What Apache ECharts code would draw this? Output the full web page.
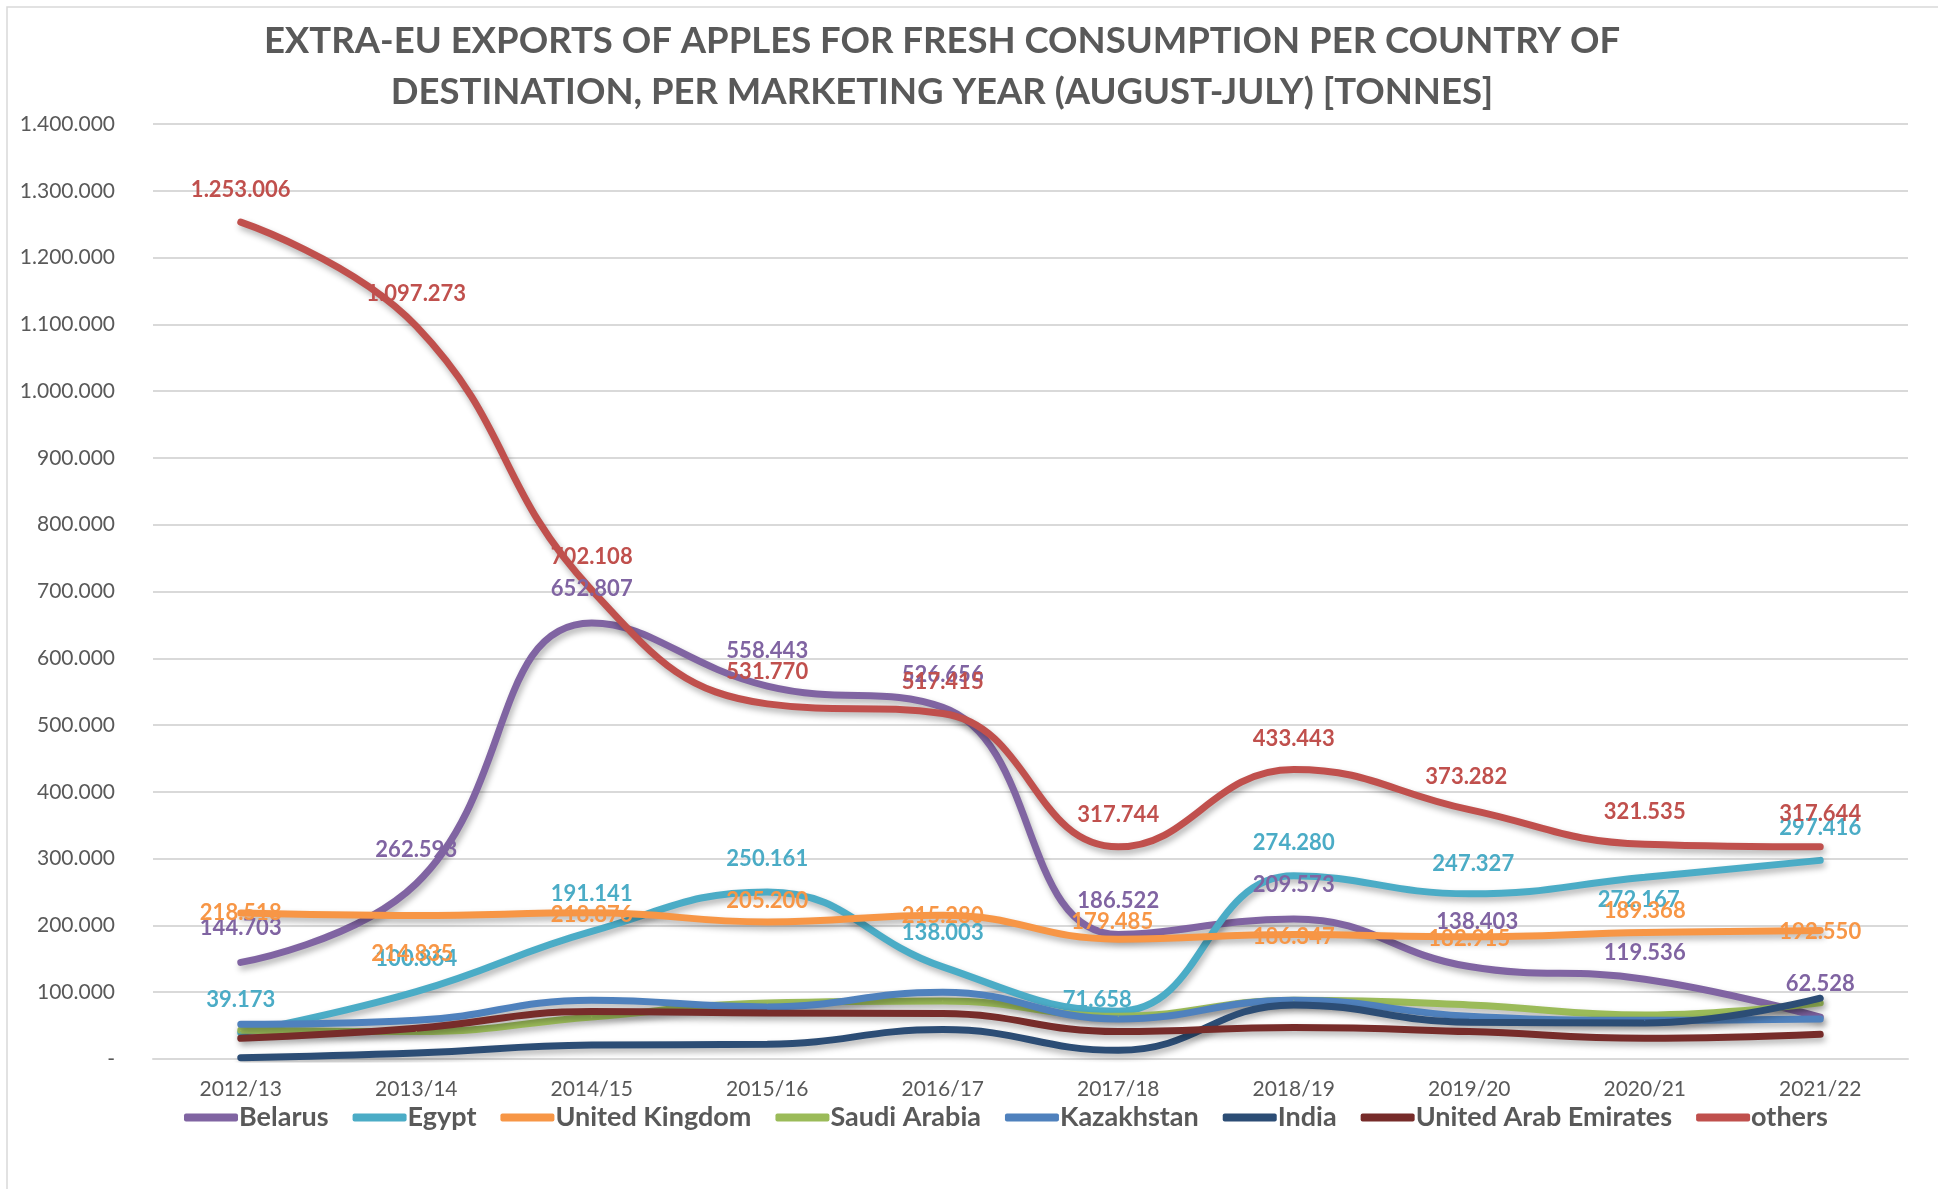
<!DOCTYPE html>
<html>
<head>
<meta charset="utf-8">
<script src="https://cdn.jsdelivr.net/npm/echarts@6/dist/echarts.min.js"></script>
<style>
  html, body { margin: 0; padding: 0; background: #fff; }
  #chart { width: 1938px; height: 1189px; }
</style>
</head>
<body>
<div id="chart"></div>
<script>
// ---------- DATA ----------
var years = ['2012/13', '2013/14', '2014/15', '2015/16', '2016/17', '2017/18', '2018/19', '2019/20', '2020/21', '2021/22'];

var belarus = [144703, 262593, 652807, 558443, 526656, 186522, 209573, 138403, 119536, 62528];
var egypt = [39173, 100864, 191141, 250161, 138003, 71658, 274280, 247327, 272167, 297416];
var unitedKingdom = [218518, 214835, 218876, 205200, 215280, 179485, 186347, 182915, 189368, 192550];
var saudiArabia = [43000, 41000, 63000, 84000, 87000, 64000, 88000, 81000, 66000, 84000];
var kazakhstan = [52000, 58000, 88000, 78000, 100000, 60000, 88000, 64000, 58000, 60000];
var india = [2000, 9000, 21000, 22000, 44000, 13000, 81000, 55000, 54000, 91000];
var uae = [31000, 46000, 71000, 69000, 68000, 41000, 47000, 41000, 31000, 37000];
var others = [1253006, 1097273, 702108, 531770, 517415, 317744, 433443, 373282, 321535, 317644];

// label offsets (centre of label relative to the point), only for labelled series
var belarusLabelPos = [[0, -34], [0, -34], [0, -34], [0, -35], [0, -32], [0, -34], [0, -34], [8, -45], [0, -26], [0, -33]];
var egyptLabelPos = [[0, -33], [0, -33], [0, -37], [0, -33], [0, -34], [-21, -11], [0, -33], [4, -30], [-6, 23], [0, -32]];
var ukLabelPos = [[0, 0], [-4, 38], [0, 2], [0, -21], [0, 1], [-6, -17], [0, 2], [0, 2], [0, -22], [0, 2]];
var othersLabelPos = [[0, -32], [0, -32], [0, -33], [0, -32], [0, -32], [0, -32], [0, -31], [-3, -33], [0, -32], [0, -33]];

// ---------- HELPERS ----------
function fmt(n) {
	if (n === 0) {
		return '-';
	}
	return String(Math.round(n)).replace(/\B(?=(\d{3})+(?!\d))/g, '.');
}

var baseFont = 'Lato, "Liberation Sans", sans-serif';

function makeSeries(name, values, color, labelPos) {
	var s = {
		name: name,
		type: 'line',
		smooth: 0.45,
		symbol: 'circle',
		symbolSize: 1,
		itemStyle: { color: color },
		lineStyle: {
			width: 7,
			color: color,
			cap: 'round',
			shadowColor: 'rgba(0,0,0,0.3)',
			shadowBlur: 6,
			shadowOffsetX: 2,
			shadowOffsetY: 4
		},
		emphasis: { disabled: true },
		data: values.map(function (v, i) {
			var item = { value: v };
			if (labelPos) {
				item.label = { offset: labelPos[i] };
			}
			return item;
		})
	};
	if (labelPos) {
		s.label = {
			show: true,
			position: 'inside',
			color: color,
			fontFamily: baseFont,
			fontWeight: 'bold',
			fontSize: 22,
			formatter: function (p) { return fmt(p.value); }
		};
	} else {
		s.label = { show: false };
	}
	return s;
}

// ---------- CHART ----------
var chart = echarts.init(document.getElementById('chart'));

var options = {
	backgroundColor: '#fff',
	animation: false,
	graphic: [
		{
			type: 'rect',
			shape: { x: 7, y: 7, width: 2100, height: 2100 },
			style: { fill: 'none', stroke: '#d9d9d9', lineWidth: 1.5 },
			silent: true
		}
	],
	title: {
		text: 'EXTRA-EU EXPORTS OF APPLES FOR FRESH CONSUMPTION PER COUNTRY OF\nDESTINATION, PER MARKETING YEAR (AUGUST-JULY) [TONNES]',
		left: 937,
		top: 11,
		textAlign: 'center',
		textStyle: {
			color: '#595959',
			fontFamily: baseFont,
			fontWeight: 'bold',
			fontSize: 36.5,
			lineHeight: 51
		}
	},
	grid: {
		left: 153,
		right: 30,
		top: 124,
		bottom: 130
	},
	legend: {
		left: 179,
		top: 1099,
		itemWidth: 54,
		itemHeight: 8,
		itemGap: 24,
		icon: 'roundRect',
		textStyle: {
			color: '#595959',
			fontFamily: baseFont,
			fontWeight: 'bold',
			fontSize: 27,
			padding: [0, 0, 0, -4]
		},
		data: ['Belarus', 'Egypt', 'United Kingdom', 'Saudi Arabia', 'Kazakhstan', 'India', 'United Arab Emirates', 'others']
	},
	xAxis: {
		type: 'category',
		data: years,
		boundaryGap: true,
		axisLine: { show: true, lineStyle: { color: '#d9d9d9', width: 2 } },
		axisTick: { show: false },
		axisLabel: {
			color: '#595959',
			fontFamily: baseFont,
			fontSize: 21,
			margin: 20
		}
	},
	yAxis: {
		type: 'value',
		min: 0,
		max: 1400000,
		interval: 100000,
		axisLine: { show: false },
		axisTick: { show: false },
		splitLine: { lineStyle: { color: '#d9d9d9', width: 2 } },
		axisLabel: {
			color: '#595959',
			fontFamily: baseFont,
			fontSize: 21,
			margin: 38,
			formatter: fmt
		}
	},
	series: [
		makeSeries('Belarus', belarus, '#8064A2', belarusLabelPos),
		makeSeries('Egypt', egypt, '#4BACC6', egyptLabelPos),
		makeSeries('United Kingdom', unitedKingdom, '#F79646', ukLabelPos),
		makeSeries('Saudi Arabia', saudiArabia, '#9BBB59', null),
		makeSeries('Kazakhstan', kazakhstan, '#4F81BD', null),
		makeSeries('India', india, '#2C4D75', null),
		makeSeries('United Arab Emirates', uae, '#772C2A', null),
		makeSeries('others', others, '#C0504D', othersLabelPos)
	]
};

chart.setOption(options);
</script>
</body>
</html>
